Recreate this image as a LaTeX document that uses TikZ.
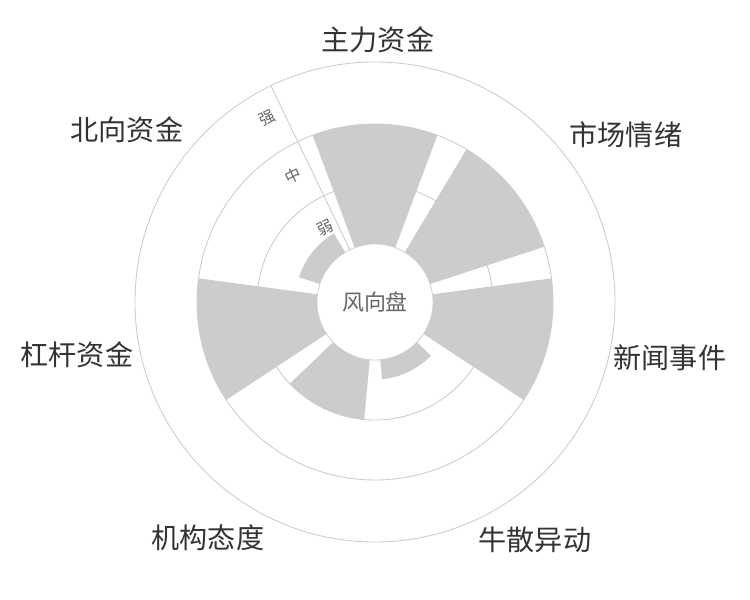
\documentclass[tikz,border=0pt]{standalone}
\usepackage{fontspec}
\setmainfont{Noto Sans CJK SC}
\definecolor{gridgray}{HTML}{CCCCCC}
\definecolor{bargray}{HTML}{CCCCCC}
\definecolor{labelgray}{HTML}{333333}
\definecolor{textgray}{HTML}{666666}
\tikzset{ring/.style={draw=gridgray, line width=0.5pt}}
\tikzset{bar/.style={fill=bargray}}
\tikzset{catlabel/.style={text=labelgray, font=\fontsize{16}{18}\selectfont}}
\tikzset{levellabel/.style={text=textgray, font=\fontsize{9}{10}\selectfont, rotate=25.7}}

\begin{document}
\begin{tikzpicture}
        \useasboundingbox (-7.5,-5.96) rectangle (7.5,6.04);
        % rings
        \draw[ring] (0,0) circle (4.8);
        \draw[ring] (0,0) circle (3.56);
        \draw[ring] (0,0) circle (2.36);
        % bars
        \foreach \a/\r in {90/3.56, 38.57/3.56, -12.86/3.56, -64.29/1.55,
                           -115.71/2.36, -167.14/3.56, -218.57/1.6}
            \fill[bar] (\a-20.5:1.16) -- (\a-20.5:\r)
                arc[start angle=\a-20.5, end angle=\a+20.5, radius=\r]
                -- (\a+20.5:1.16)
                arc[start angle=\a+20.5, end angle=\a-20.5, radius=1.16] -- cycle;
        % axis line and centre
        \draw[ring] (115.71:1.16) -- (115.71:4.8);
        \node[circle, fill=white, draw=gridgray, minimum size=2.32cm, inner sep=0pt,
              text=textgray, font=\fontsize{12.5}{14}\selectfont] (hub) at (0,0) {风向盘};
        \node[levellabel] (weak) at (124:1.78) {弱};
        \node[levellabel] (mid) at (123:3.02) {中};
        \node[levellabel] (strong) at (120.5:4.26) {强};
        % categories
        \node[catlabel] (zhuli) at (0.06,5.24) {主力资金};
        \node[catlabel] (shichang) at (5.02,3.34) {市场情绪};
        \node[catlabel] (xinwen) at (5.9,-1.12) {新闻事件};
        \node[catlabel] (niusan) at (3.2,-4.76) {牛散异动};
        \node[catlabel] (jigou) at (-3.34,-4.72) {机构态度};
        \node[catlabel] (ganggan) at (-5.96,-1.06) {杠杆资金};
        \node[catlabel] (beixiang) at (-4.96,3.44) {北向资金};
    \end{tikzpicture}
\end{document}
